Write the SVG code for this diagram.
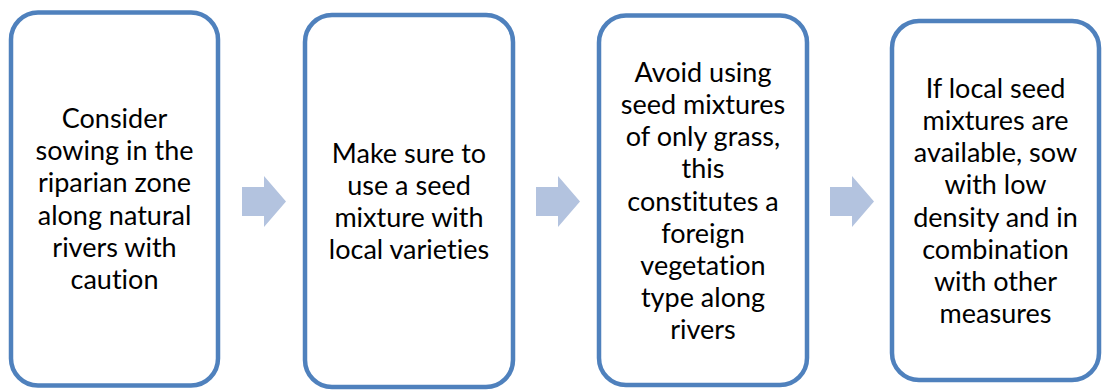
<svg xmlns="http://www.w3.org/2000/svg" width="1103" height="390" viewBox="0 0 1103 390">
<style>
.box{fill:#FFFFFF;stroke:#4F81BD;stroke-width:4.5}
.arrow{fill:#B3C3DF}
.t{font-family:Lato,"Open Sans","Liberation Sans",sans-serif;font-size:27px;fill:#000000;text-anchor:middle;font-variant-ligatures:none}
</style>
<rect width="1103" height="390" fill="#FFFFFF"/>
<g id="connectors">
<polygon class="arrow" points="242,187 264,187 264,176 286,201.5 264,227 264,216 242,216"/>
<polygon class="arrow" points="536,187 558,187 558,176 580,201.5 558,227 558,216 536,216"/>
<polygon class="arrow" points="830,187 852,187 852,176 874,201.5 852,227 852,216 830,216"/>
</g>
<g id="node1">
<rect class="box" x="11" y="12.5" width="207" height="373" rx="27" ry="27"/>
<text class="t"><tspan x="114.5" y="128">Consider</tspan><tspan x="114.5" y="160.2">sowing in the</tspan><tspan x="114.5" y="192.4">riparian zone</tspan><tspan x="114.5" y="224.6">along natural</tspan><tspan x="114.5" y="256.8">rivers with</tspan><tspan x="114.5" y="289">caution</tspan></text>
</g>
<g id="node2">
<rect class="box" x="305" y="15" width="208" height="372" rx="27" ry="27"/>
<text class="t"><tspan x="409" y="162.7">Make sure to</tspan><tspan x="409" y="194.9">use a seed</tspan><tspan x="409" y="227.1">mixture with</tspan><tspan x="409" y="259.3">local varieties</tspan></text>
</g>
<g id="node3">
<rect class="box" x="599" y="15.5" width="208" height="369.5" rx="27" ry="27"/>
<text class="t"><tspan x="703" y="81.7">Avoid using</tspan><tspan x="703" y="113.9">seed mixtures</tspan><tspan x="703" y="146.1">of only grass,</tspan><tspan x="703" y="178.3">this</tspan><tspan x="703" y="210.5">constitutes a</tspan><tspan x="703" y="242.7">foreign</tspan><tspan x="703" y="274.9">vegetation</tspan><tspan x="703" y="307.1">type along</tspan><tspan x="703" y="339.3">rivers</tspan></text>
</g>
<g id="node4">
<rect class="box" x="892" y="21" width="207" height="359" rx="27" ry="27"/>
<text class="t"><tspan x="995.5" y="97.8">If local seed</tspan><tspan x="995.5" y="130">mixtures are</tspan><tspan x="995.5" y="162.2">available, sow</tspan><tspan x="995.5" y="194.4">with low</tspan><tspan x="995.5" y="226.6">density and in</tspan><tspan x="995.5" y="258.8">combination</tspan><tspan x="995.5" y="291">with other</tspan><tspan x="995.5" y="323.2">measures</tspan></text>
</g>
</svg>
